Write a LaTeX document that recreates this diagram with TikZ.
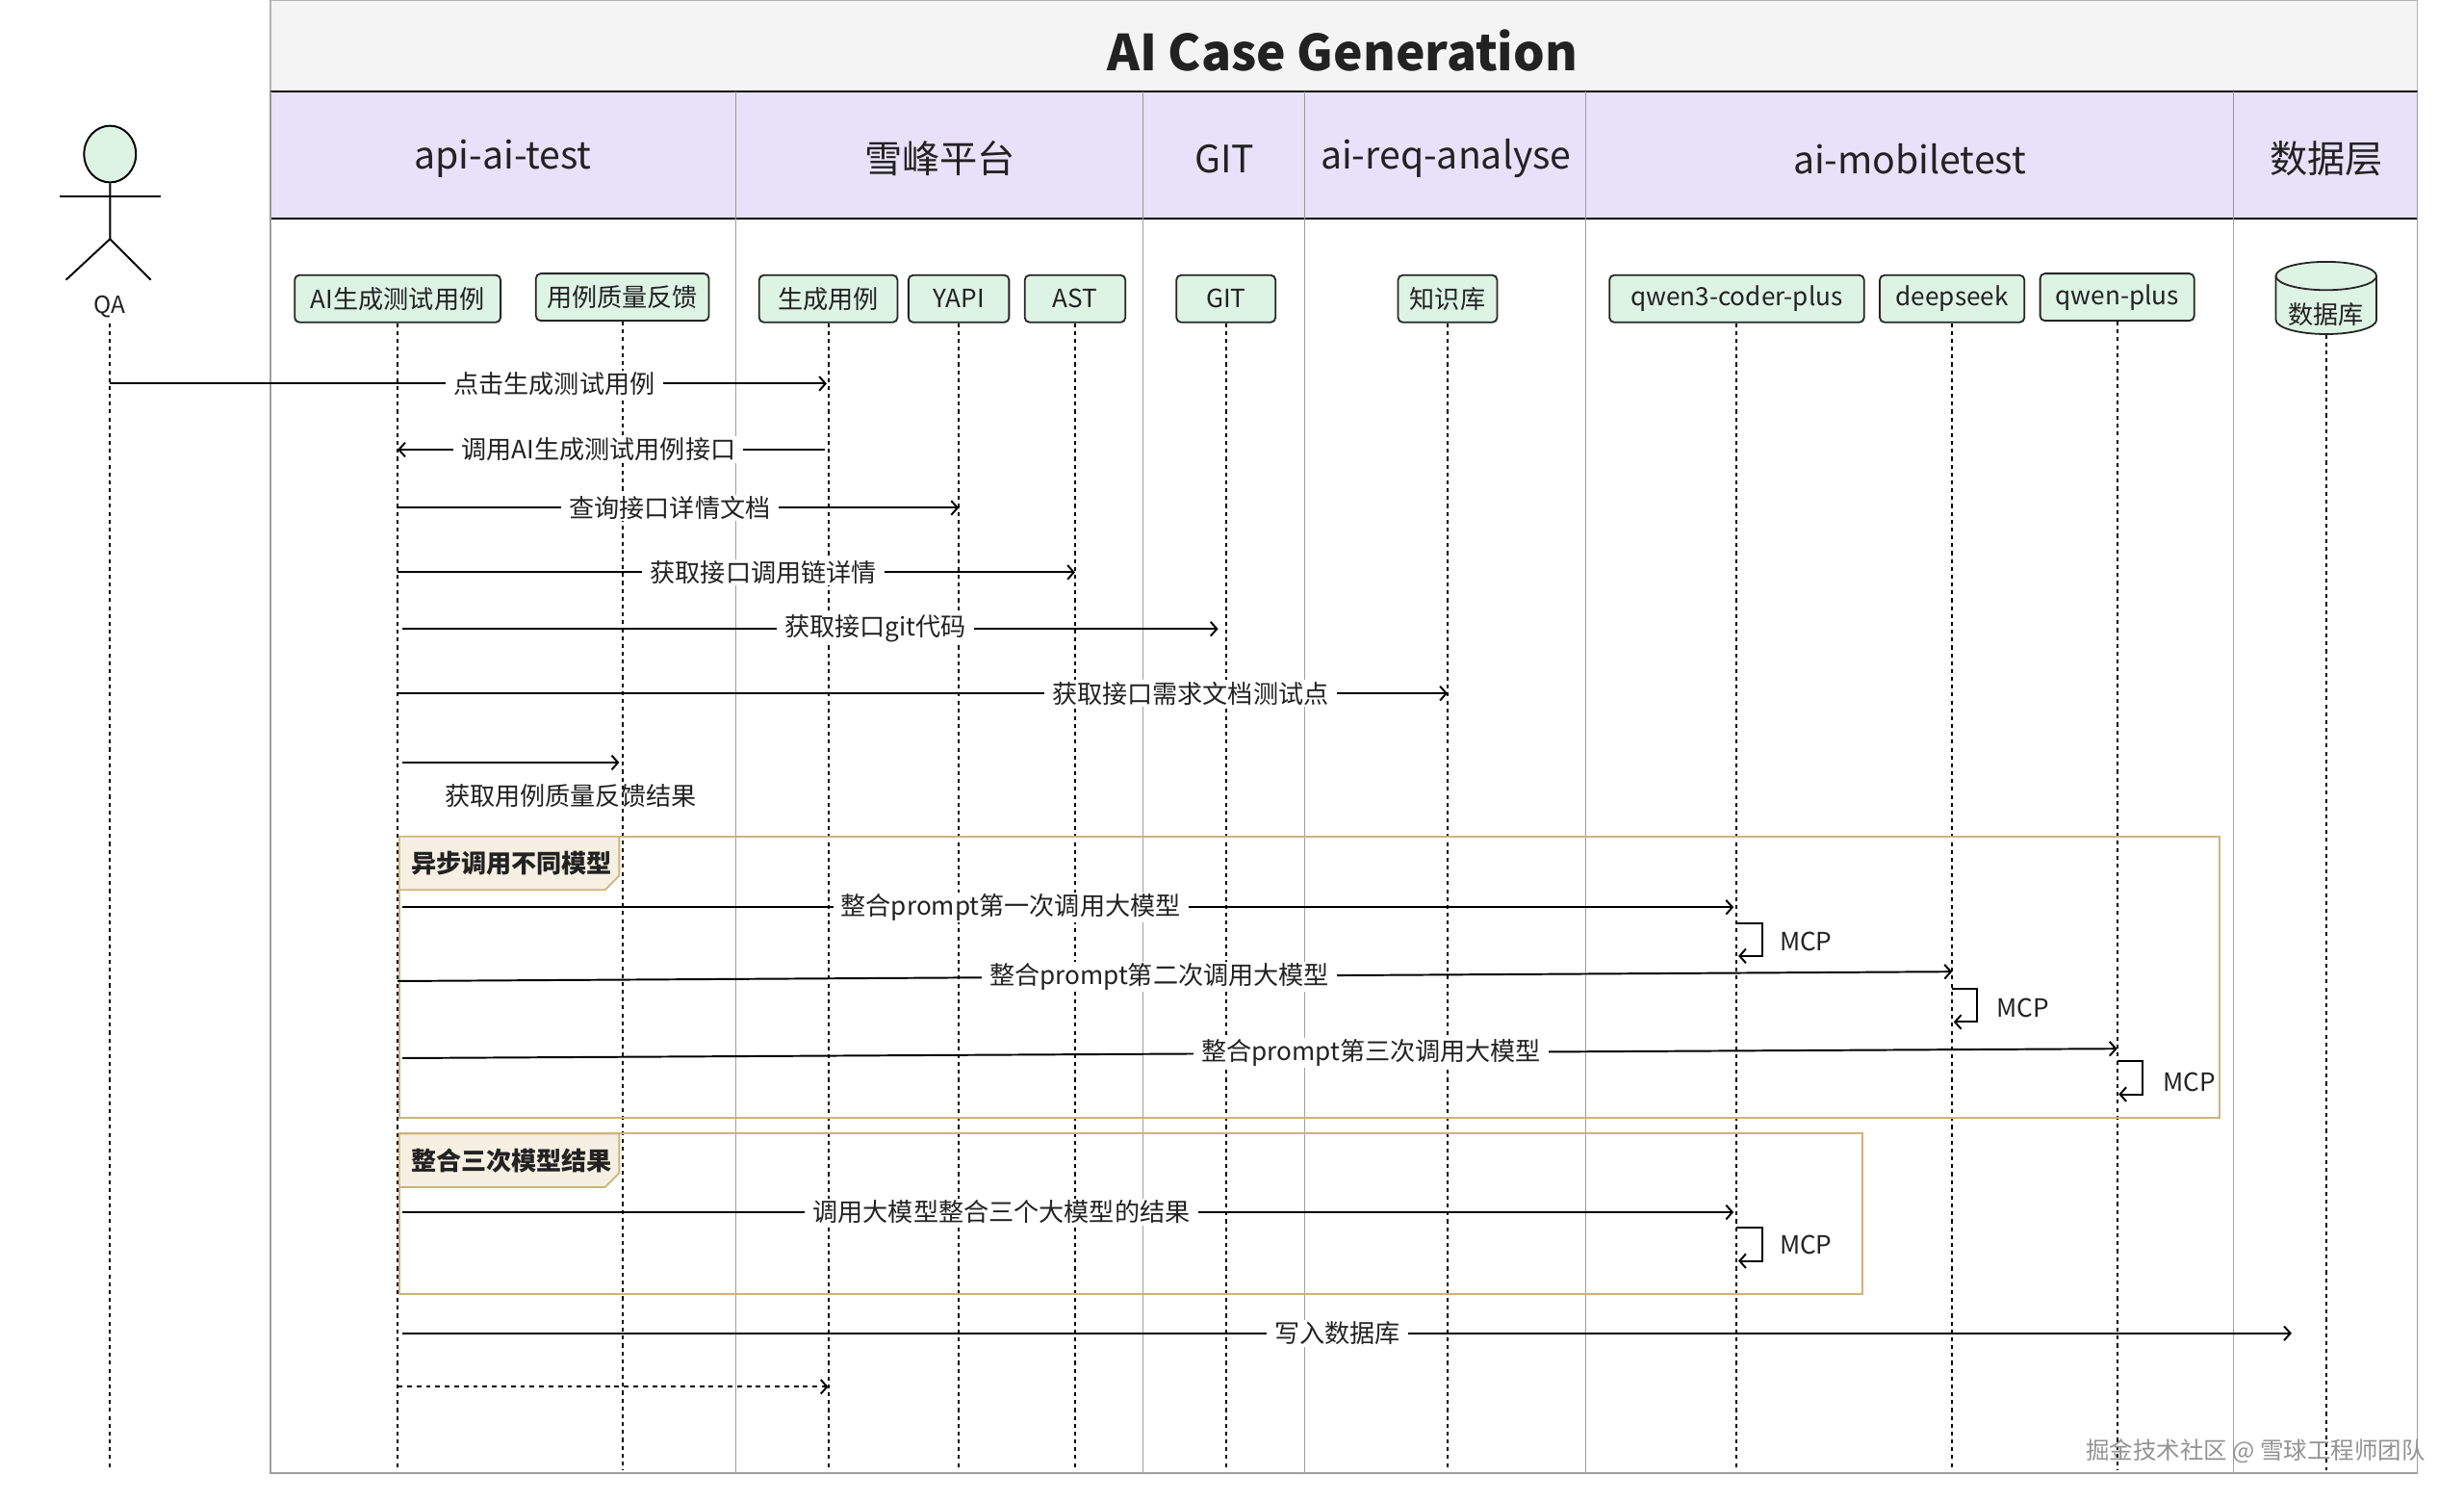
\documentclass[tikz,border=0pt]{standalone}
\usepackage{fontspec}
\setmainfont{Noto Sans CJK SC}
\usetikzlibrary{arrows.meta,shapes.geometric}
\definecolor{titlegray}{HTML}{F4F4F4}
\definecolor{lav}{HTML}{E7E2F9}
\definecolor{partgreen}{HTML}{DDF3E4}
\definecolor{framegold}{HTML}{CDB37C}
\definecolor{tabfill}{HTML}{F5F0E2}
\definecolor{inkc}{HTML}{222222}
\begin{document}
\begin{tikzpicture}[x=1pt,y=-1pt,
  font=\fontsize{16}{19}\selectfont, text=inkc,
  part/.style={draw=black!85, line width=1.1pt, rounded corners=3pt, fill=partgreen, minimum height=30pt, inner sep=0pt},
  life/.style={line width=1.2pt, dash pattern=on 2.5pt off 2.5pt},
  msg/.style={line width=1.2pt, -{Straight Barb[length=4pt,width=9pt]}},
  lbl/.style={fill=white, inner xsep=5pt, inner ysep=1pt},
  lanesep/.style={draw=gray!75, line width=0.8pt},
  framebox/.style={draw=framegold, line width=1.3pt},
  tabbox/.style={draw=framegold, line width=1.1pt, fill=tabfill},
  lanelbl/.style={font=\fontsize{24}{28}\selectfont},
  mcplbl/.style={font=\fontsize{16}{19}\selectfont}
]
\useasboundingbox (0,0) rectangle (1567.7,955.3);
\fill[white] (0,0) rectangle (1567.7,955.3);

% title bar
\draw[draw=gray!60, fill=titlegray, line width=0.8pt] (172,0) rectangle (1538,58);
\node[font=\fontsize{31.5}{36}\selectfont\bfseries] (title) at (854,32) {AI Case Generation};

% lane header
\fill[lav] (172,58) rectangle (1538,139);
\draw[black, line width=1pt] (172,58) -- (1538,58);
\draw[black, line width=1pt] (172,139) -- (1538,139);
\draw[gray!80, line width=0.8pt] (172,58) -- (172,139);
\foreach \xx in {468,727,830,1009,1421,1538} \draw[gray!80, line width=0.8pt] (\xx,58) -- (\xx,139);
\node[lanelbl] (l1) at (320,101) {api-ai-test};
\node[lanelbl] (l2) at (598,101) {雪峰平台};
\node[lanelbl] (l3) at (779,101) {GIT};
\node[lanelbl] (l4) at (920,101) {ai-req-analyse};
\node[lanelbl] (l5) at (1215,101) {ai-mobiletest};
\node[lanelbl] (l6) at (1480,101) {数据层};

% lane body
\draw[lanesep] (172,139) -- (172,937) -- (1538,937) -- (1538,139);
\foreach \xx in {468,727,830,1009,1421} \draw[lanesep] (\xx,139) -- (\xx,937);

% actor
\node[draw=black, line width=1.2pt, ellipse, fill=partgreen, minimum width=33pt, minimum height=36pt, inner sep=0pt] (head) at (70,98) {};
\draw[line width=1.5pt] (38,125) -- (102,125);
\draw[line width=1.2pt] (head.south) -- (70,152) -- (42,178);
\draw[line width=1.2pt] (70,152) -- (96,178);
\node[font=\fontsize{15}{18}\selectfont] (qa) at (70,195) {QA};

% participants
\node[part, minimum width=131pt] (ai) at (253,190) {AI生成测试用例};
\node[part, minimum width=110pt] (fb) at (396,189) {用例质量反馈};
\node[part, minimum width=88pt] (gen) at (527,190) {生成用例};
\node[part, minimum width=64pt] (yapi) at (610,190) {YAPI};
\node[part, minimum width=64pt] (ast) at (684,190) {AST};
\node[part, minimum width=63pt] (git) at (780,190) {GIT};
\node[part, minimum width=63pt] (kb) at (921,190) {知识库};
\node[part, minimum width=162pt] (q3) at (1105,190) {qwen3-coder-plus};
\node[part, minimum width=92pt] (ds) at (1242,190) {deepseek};
\node[part, minimum width=98pt] (qp) at (1347,189) {qwen-plus};
% database cylinder
\draw[draw=black!85, line width=1.1pt, fill=partgreen] (1448,175.5) -- (1448,203.5) arc[start angle=180, end angle=0, x radius=32, y radius=9] -- (1512,175.5);
\draw[draw=black!85, line width=1.1pt, fill=partgreen] (1480,175.5) ellipse [x radius=32, y radius=9];
\node (db) at (1480,200) {数据库};
\coordinate (dbb) at (1480,213);

% lifelines
\coordinate (bot) at (0,935);
\draw[life] (qa.south) -- (qa.south |- bot);
\foreach \p in {ai,fb,gen,yapi,ast,git,kb,q3,ds,qp}
  \draw[life] (\p.south) -- (\p.south |- bot);
\draw[life] (dbb) -- (dbb |- bot);

% frames
\draw[framebox] (254,532) rectangle (1412,711);
\draw[tabbox] (254,532) -- (394,532) -- (394,557) -- (385,566) -- (254,566) -- cycle;
\node[anchor=west, font=\fontsize{16}{19}\selectfont\bfseries] (t1) at (258,549) {异步调用不同模型};
\draw[framebox] (254,721) rectangle (1185,823);
\draw[tabbox] (254,721) -- (394,721) -- (394,746) -- (385,755) -- (254,755) -- cycle;
\node[anchor=west, font=\fontsize{16}{19}\selectfont\bfseries] (t2) at (258,738) {整合三次模型结果};

% message y positions
\coordinate (m1) at (0,244);
\coordinate (m2) at (0,286);
\coordinate (m3) at (0,323);
\coordinate (m4) at (0,364);
\coordinate (m5) at (0,400);
\coordinate (m6) at (0,441);
\coordinate (m7) at (0,485);
\coordinate (m9) at (0,577);
\coordinate (m10a) at (0,624);
\coordinate (m10b) at (0,618);
\coordinate (m11a) at (0,673);
\coordinate (m11b) at (0,667);
\coordinate (m13) at (0,771);
\coordinate (m14) at (0,848);
\coordinate (m15) at (0,882);
\coordinate (mc1) at (0,587);
\coordinate (mc2) at (0,629);
\coordinate (mc3) at (0,675);
\coordinate (mc4) at (0,781);

% messages
\draw[msg] (qa |- m1) -- ([xshift=-1pt]gen.center |- m1) node[lbl, pos=0.62] {点击生成测试用例};
\draw[msg] ([xshift=-2pt]gen.center |- m2) -- (ai.center |- m2) node[lbl, pos=0.53] {调用AI生成测试用例接口};
\draw[msg] (ai.center |- m3) -- (yapi.center |- m3) node[lbl, pos=0.485] {查询接口详情文档};
\draw[msg] (ai.center |- m4) -- (ast.center |- m4) node[lbl, pos=0.54] {获取接口调用链详情};
\draw[msg] ([xshift=3pt]ai.center |- m5) -- ([xshift=-5pt]git.center |- m5) node[lbl, pos=0.58] {获取接口git代码};
\draw[msg] (ai.center |- m6) -- (kb.center |- m6) node[lbl, pos=0.755] {获取接口需求文档测试点};
\draw[msg] ([xshift=3pt]ai.center |- m7) -- ([xshift=-2pt]fb.center |- m7);
\node (l7) at (363,506) {获取用例质量反馈结果};

\draw[msg] ([xshift=3pt]ai.center |- m9) -- ([xshift=-2pt]q3.center |- m9) node[lbl, pos=0.457] {整合prompt第一次调用大模型};
\draw[msg] (q3.center |- mc1) -- ++(16,0) -- ++(0,21) -- ++(-15,0);
\node[mcplbl] (mcp1) at (1149,599) {MCP};

\draw[msg] (ai.center |- m10a) -- (ds.center |- m10b) node[lbl, pos=0.49] {整合prompt第二次调用大模型};
\draw[msg] (ds.center |- mc2) -- ++(16,0) -- ++(0,21) -- ++(-15,0);
\node[mcplbl] (mcp2) at (1287,641) {MCP};

\draw[msg] ([xshift=3pt]ai.center |- m11a) -- (qp.center |- m11b) node[lbl, pos=0.565] {整合prompt第三次调用大模型};
\draw[msg] (qp.center |- mc3) -- ++(16,0) -- ++(0,21) -- ++(-15,0);
\node[mcplbl] (mcp3) at (1393,688) {MCP};

\draw[msg] ([xshift=3pt]ai.center |- m13) -- ([xshift=-2pt]q3.center |- m13) node[lbl, pos=0.45] {调用大模型整合三个大模型的结果};
\draw[msg] (q3.center |- mc4) -- ++(16,0) -- ++(0,21) -- ++(-15,0);
\node[mcplbl] (mcp4) at (1149,792) {MCP};

\draw[msg] ([xshift=3pt]ai.center |- m14) -- ([xshift=-22pt]dbb |- m14) node[lbl, pos=0.495] {写入数据库};
\draw[msg, dash pattern=on 3pt off 3pt] (ai.center |- m15) -- (gen.center |- m15);

% watermark
\node[text=gray!85, font=\fontsize{15}{18}\selectfont] (wm) at (1435,923) {掘金技术社区 @ 雪球工程师团队};
\end{tikzpicture}
\end{document}
